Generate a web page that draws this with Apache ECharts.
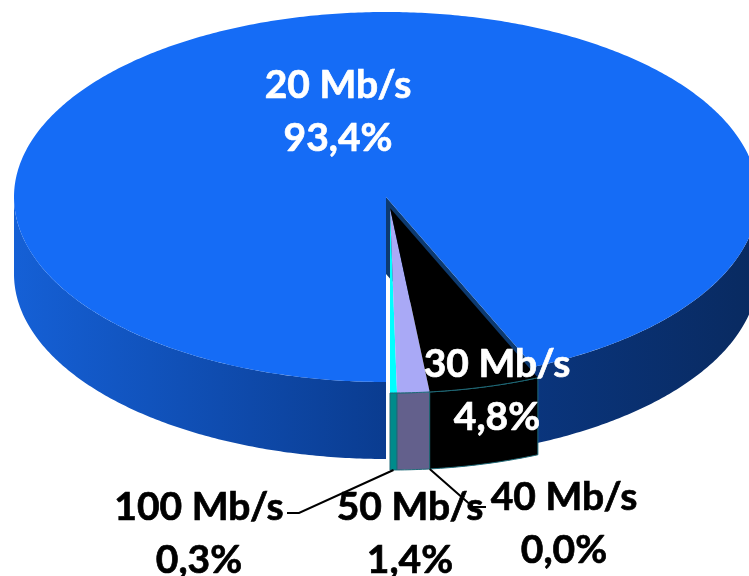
<!DOCTYPE html>
<html>
<head>
<meta charset="utf-8">
<style>html,body{margin:0;padding:0;background:#fff}#c{width:749px;height:576px}</style>
<script src="https://cdn.jsdelivr.net/npm/echarts@6/dist/echarts.min.js"></script>
</head>
<body>
<div id="c"></div>
<script>
// Data, in pie order going anticlockwise from the bottom of the disc
const categories = ['100 Mb/s', '50 Mb/s', '40 Mb/s', '30 Mb/s', '20 Mb/s'];
const shares = [0.3, 1.4, 0.0, 4.8, 93.4];
const topColors = ['#00ffff', '#a9a9f6', '#c8c8c8', '#000000', '#156cf6'];
const wallColors = ['#008b8b', '#63608c', '#808080', '#000000', null];

// Layout
const RX = 372, RY = 185, DEPTH = 77;
const BLUE_CENTER = [386, 197];
const SLICE_CENTER = [390, 208];
const labelPos = [[199, 507], [410, 507], [564, 497], [497, 364], [338, 85]];
const labelGap = 53;
const labelColors = ['#000', '#000', '#000', '#fff', '#fff'];
const leaders = { 0: [[299, 513], [287, 513]], 2: [[473, 507], [486, 507]] };
const FONT = 'Lato, "Open Sans", sans-serif';
const FONT_SIZE = 39;

const total = shares.reduce((a, b) => a + b, 0);
const spans = [];
shares.reduce((acc, v, i) => {
  const end = acc + v / total * Math.PI * 2;
  spans[i] = [acc, end];
  return end;
}, 0);

function pt(c, t, dy) {
  return [c[0] + RX * Math.sin(t), c[1] + RY * Math.cos(t) + (dy || 0)];
}
function arc(c, a, b, dy) {
  const pts = [];
  const n = Math.max(2, Math.ceil(Math.abs(b - a) / 0.01));
  for (let i = 0; i <= n; i++) pts.push(pt(c, a + (b - a) * i / n, dy));
  return pts;
}
function poly(points, fill, stroke, lw) {
  return { type: 'polygon', shape: { points }, style: { fill, stroke: stroke || null, lineWidth: lw || 0 } };
}
function outerWall(c, a, b, fill, stroke) {
  const t = arc(c, a, b, 0), l = arc(c, b, a, DEPTH);
  return poly(t.concat(l), fill, stroke, stroke ? 1 : 0);
}

function renderSlice(params, api) {
  const i = api.value(0);
  const [a, b] = spans[i];
  const children = [];
  if (i === 4) {
    const c = BLUE_CENTER;
    const grad = new echarts.graphic.LinearGradient(14, 0, 758, 0, [
      { offset: 0, color: '#1560d6' },
      { offset: 0.5, color: '#0a3c90' },
      { offset: 1, color: '#092a60' }
    ], true);
    children.push(outerWall(c, a, Math.PI / 2, grad));
    children.push(outerWall(c, Math.PI * 1.5, b, grad));
    const rim = pt(c, a, 0);
    children.push(poly([c, rim, [rim[0], rim[1] + DEPTH], [c[0], c[1] + DEPTH]], '#0d3a70', null, 0));
    children.push(poly([c].concat(arc(c, a, b, 0)), topColors[i], null, 0));
  } else {
    const c = SLICE_CENTER;
    const edge = '#1f6a78';
    if (b > a) {
      children.push(outerWall(c, a, b, wallColors[i], edge));
      children.push(poly([c].concat(arc(c, a, b, 0)), topColors[i], null, 0));
      children.push({ type: 'polyline', shape: { points: arc(c, a, b, 0) }, style: { fill: null, stroke: edge, lineWidth: 1 } });
    }
  }
  return { type: 'group', children };
}

function renderLabel(params, api) {
  const i = api.value(0);
  const children = [];
  const pos = labelPos[i];
  if (leaders[i]) {
    const [a, b] = spans[i];
    const start = pt(SLICE_CENTER, (a + b) / 2, DEPTH);
    children.push({ type: 'polyline', shape: { points: [start].concat(leaders[i]) },
      style: { fill: null, stroke: '#000', lineWidth: 2 } });
  }
  [categories[i], shares[i].toFixed(1).replace('.', ',') + '%'].forEach((s, k) => {
    children.push({ type: 'text', x: pos[0], y: pos[1] + k * labelGap,
      style: { text: s, fill: labelColors[i], stroke: labelColors[i], lineWidth: 0.7,
        font: 'bold ' + FONT_SIZE + 'px ' + FONT, align: 'center', verticalAlign: 'middle' } });
  });
  return { type: 'group', children };
}

const drawOrder = [4, 0, 1, 2, 3];
const chart = echarts.init(document.getElementById('c'), null, { renderer: 'canvas' });
chart.setOption({
  animation: false,
  backgroundColor: '#ffffff',
  series: [
    { type: 'custom', coordinateSystem: 'none', z: 2, silent: true,
      renderItem: renderSlice, encode: {}, data: drawOrder.map(i => [i, shares[i], categories[i]]) },
    { type: 'custom', coordinateSystem: 'none', z: 3, silent: true,
      renderItem: renderLabel, encode: {}, data: drawOrder.map(i => [i, shares[i], categories[i]]) }
  ]
});
</script>
</body>
</html>
